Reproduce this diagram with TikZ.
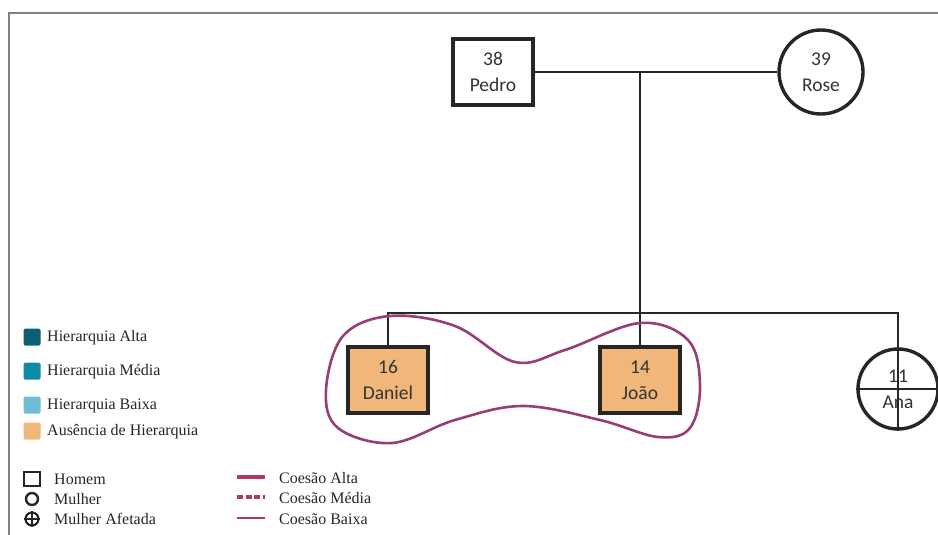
\documentclass[tikz,border=0pt]{standalone}
\usepackage{fontspec}
\setmainfont{Liberation Serif}
\newfontfamily\nodefont{Carlito}
\begin{document}
\begin{tikzpicture}[x=1pt,y=-1pt,
  person/.style={draw=black!85, line width=3.4pt, align=center, inner sep=0pt,
    font=\nodefont\fontsize{19.5}{26}\selectfont, text=black!80},
  man/.style={person, rectangle, minimum width=80, minimum height=66},
  woman/.style={person, circle, minimum size=84},
  affected/.style={person, circle, minimum size=80},
  kin/.style={draw=black!85, line width=1.7pt},
  legtext/.style={anchor=west, inner sep=0pt, font=\fontsize{16}{18}\selectfont, text=black!85},
  swatch/.style={rounded corners=1.5pt, inner sep=0pt, minimum width=17, minimum height=17},
  cohesion/.style={draw=cohcurve, line width=2.6pt},
  cohleg/.style={draw=cohline}
]
\definecolor{hialta}{RGB}{14,94,115}
\definecolor{himedia}{RGB}{14,139,163}
\definecolor{hibaixa}{RGB}{110,189,208}
\definecolor{hiausente}{RGB}{240,182,122}
\definecolor{cohcurve}{RGB}{152,62,116}
\definecolor{cohline}{RGB}{176,56,102}

\useasboundingbox (0,0) rectangle (938,535);

% outer frame
\draw[gray, line width=1.6pt] (9,535) -- (9,13) -- (938,13);

% parents
\node[man]   (pedro) at (493,72) {38\\Pedro};
\node[woman] (rose)  at (821,72) {39\\Rose};
\coordinate (m) at (640,72);
\coordinate (s) at (640,313);
\draw[kin] (pedro.east) -- (rose.west);
\draw[kin] (m) -- (s);

% children
\node[man, fill=hiausente] (daniel) at (388,380) {16\\Daniel};
\node[man, fill=hiausente] (joao)   at (640,380) {14\\João};
\node[affected, draw=none] (ana)    at (898,389) {11\\Ana};
\draw[kin] (daniel.north) |- (ana.north |- s) -- (ana.south);
\draw[kin] (joao.north) -- (s);
\draw[kin] (ana.west) -- (ana.east);
\draw[black!85, line width=3.4pt] (ana) circle[radius=40];

% cohesion between the brothers
\draw[cohesion] plot[smooth cycle, tension=0.6] coordinates {
  (326,390) (343,336) (390,316) (455,326) (515,362) (565,350)
  (640,323) (688,340) (700,385) (690,428) (658,437) (600,420)
  (523,406) (455,420) (392,443) (338,428)};

% hierarchy legend
\node[swatch, fill=hialta]    (la) at (32,337) {};
\node[swatch, fill=himedia]   (lm) at (32,371) {};
\node[swatch, fill=hibaixa]   (lb) at (32,405) {};
\node[swatch, fill=hiausente] (lx) at (32,431) {};
\node[legtext] (ta) at (47,338) {Hierarquia Alta};
\node[legtext] (tm) at (47,372) {Hierarquia Média};
\node[legtext] (tb) at (47,406) {Hierarquia Baixa};
\node[legtext] (tx) at (47,432) {Ausência de Hierarquia};

% symbol legend
\node[draw=black!85, line width=1.8pt, inner sep=0pt, minimum width=16, minimum height=14] (sq) at (32,479) {};
\node[draw=black!85, line width=2.4pt, circle, inner sep=0pt, minimum size=12] (ci) at (32,499) {};
\node[draw=black!85, line width=2.2pt, circle, inner sep=0pt, minimum size=13] (cx) at (32,519) {};
\draw[black!85, line width=1.8pt] (cx.west) -- (cx.east) (cx.north) -- (cx.south);
\node[legtext] (th) at (54,479) {Homem};
\node[legtext] (tw) at (54,499) {Mulher};
\node[legtext] (tf) at (54,519) {Mulher Afetada};

% cohesion legend
\coordinate (ca1) at (237,477); \coordinate (ca2) at (265,477);
\coordinate (cm1) at (237,497); \coordinate (cm2) at (265,497);
\coordinate (cb1) at (237,518); \coordinate (cb2) at (265,518);
\draw[cohleg, line width=3.6pt] (ca1) -- (ca2);
\draw[cohleg, line width=3.6pt, dash pattern=on 6pt off 2.5pt] (cm1) -- (cm2);
\draw[cohleg, line width=1.5pt] (cb1) -- (cb2);
\node[legtext] (tca) at (279,478) {Coesão Alta};
\node[legtext] (tcm) at (279,498) {Coesão Média};
\node[legtext] (tcb) at (279,519) {Coesão Baixa};
\end{tikzpicture}
\end{document}
